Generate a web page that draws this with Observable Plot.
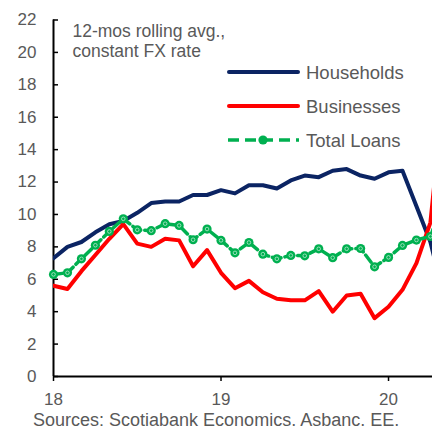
<!DOCTYPE html>
<html><head><meta charset="utf-8">
<script src="https://cdn.jsdelivr.net/npm/d3@7"></script>
<script src="https://cdn.jsdelivr.net/npm/@observablehq/plot@0.6"></script>
<style>
html,body{margin:0;padding:0;background:#fff;}
</style></head><body><div id="chart"></div>
<script>
// Monthly values from Jan 2018 (index 0); last point lies past the cropped right edge
const households = [7.3, 8.0, 8.3, 8.9, 9.4, 9.6, 10.1, 10.7, 10.8, 10.8, 11.2, 11.2, 11.5, 11.3, 11.8, 11.8, 11.6, 12.1, 12.4, 12.3, 12.7, 12.8, 12.4, 12.2, 12.6, 12.7, 10.5, 8.3, 4.8];
const businesses = [5.6, 5.4, 6.5, 7.5, 8.5, 9.4, 8.2, 8.0, 8.5, 8.4, 6.8, 7.8, 6.4, 5.45, 5.9, 5.2, 4.8, 4.7, 4.7, 5.27, 4.0, 5.0, 5.1, 3.6, 4.3, 5.35, 7.0, 9.5, 18];
const totalLoans = [6.3, 6.4, 7.26, 8.1, 8.95, 9.73, 9.05, 9.0, 9.43, 9.32, 8.44, 9.1, 8.4, 7.63, 8.27, 7.55, 7.26, 7.47, 7.45, 7.88, 7.33, 7.88, 7.9, 6.77, 7.35, 8.09, 8.42, 8.64, 11];
const xTickValues = [0, 12, 24];
const xTickLabels = ["18", "19", "20"];
const yTickValues = [0, 2, 4, 6, 8, 10, 12, 14, 16, 18, 20, 22];
const seriesNames = ["Households", "Businesses", "Total Loans"];
const seriesColors = ["#0b2463", "#ff0000", "#00b050"];
const noteLines = ["12-mos rolling avg.,", "constant FX rate"];
const sourceText = "Sources: Scotiabank Economics. Asbanc. EE.";

const rows = vals => vals.map((v, i) => ({i, v}));
const hh = rows(households), bz = rows(businesses), tl = rows(totalLoans);
const xMax = 27.15;
const tlVisible = tl.filter(d => d.i <= xMax);

const font = "'Liberation Sans', Arial, Helvetica, sans-serif";
const grey = "#595959";
const [navy, red, green] = seriesColors;

const chart = Plot.plot({
  width: 432, height: 431,
  marginLeft: 53, marginRight: 0, marginTop: 19.5, marginBottom: 55,
  style: {fontFamily: font, background: "white"},
  x: {domain: [0, xMax]},
  y: {domain: [0, 22]},
  marks: [
    Plot.axisY({ticks: yTickValues, tickSize: 0, tickPadding: 17, tickFormat: d => String(d), fontSize: 17, fill: grey, label: null}),
    Plot.axisY({ticks: yTickValues, tickSize: 5, dx: 5, tickFormat: () => "", stroke: "black", strokeWidth: 1.5, label: null}),
    Plot.axisX({ticks: xTickValues, tickSize: 5, tickPadding: 11, tickFormat: d => xTickLabels[xTickValues.indexOf(d)], fontSize: 17, fill: grey, stroke: "black", strokeWidth: 1.5, label: null}),
    Plot.ruleY([0], {stroke: "black", strokeWidth: 2}),
    Plot.ruleX([0], {stroke: "black", strokeWidth: 2}),
    Plot.line(hh, {x: "i", y: "v", stroke: navy, strokeWidth: 4, clip: true}),
    Plot.line(bz, {x: "i", y: "v", stroke: red, strokeWidth: 4, clip: true}),
    Plot.line(tl, {x: "i", y: "v", stroke: green, strokeWidth: 3.5, strokeDasharray: "9,4", clip: true}),
    Plot.dot(tlVisible, {x: "i", y: "v", r: 4.6, fill: green, stroke: "none"}),
    Plot.dot(tlVisible, {x: "i", y: "v", r: 1.8, fill: "none", stroke: "white", strokeWidth: 0.7, strokeOpacity: 0.8}),
    Plot.text([noteLines.join("\n")], {text: d => d, frameAnchor: "top-left", dx: 19, dy: 3, lineAnchor: "top", textAnchor: "start", fontSize: 17.5, fill: grey, lineHeight: 1.13})
  ]
});
document.getElementById("chart").appendChild(chart);

// Legend
const svg = d3.select(chart);
const lg = svg.append("g").attr("font-family", font).attr("text-anchor", "start");
const rowY = [72, 106, 140];
seriesNames.forEach((name, k) => {
  const y = rowY[k];
  const ln = lg.append("line").attr("x1", 229).attr("x2", 298).attr("y1", y).attr("y2", y)
    .attr("stroke", seriesColors[k]).attr("stroke-linecap", "round")
    .attr("stroke-width", k === 2 ? 3.5 : 4);
  if (k === 2) {
    ln.attr("stroke-dasharray", "11,6").attr("stroke-linecap", "butt").attr("x1", 228).attr("x2", 299);
    lg.append("circle").attr("cx", 263).attr("cy", y).attr("r", 4.6).attr("fill", green);
  }
  lg.append("text").attr("x", 306).attr("y", y).attr("dy", "0.36em").attr("text-anchor", "start")
    .attr("font-size", 18.5).attr("fill", grey).text(name);
});
// Source caption
svg.append("text").attr("x", 33).attr("y", 426).attr("font-family", font).attr("text-anchor", "start")
  .attr("font-size", 18).attr("fill", grey).text(sourceText);
</script>
</body></html>
